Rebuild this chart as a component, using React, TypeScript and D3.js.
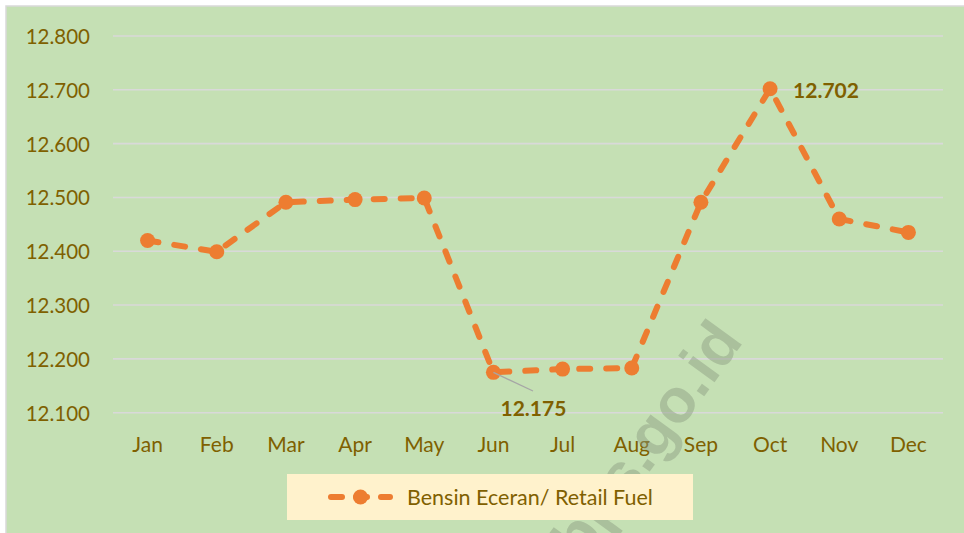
import React from "react";
import * as d3 from "d3";

const months = ["Jan", "Feb", "Mar", "Apr", "May", "Jun", "Jul", "Aug", "Sep", "Oct", "Nov", "Dec"];
const fuelValues = [12420, 12399, 12491, 12496, 12499, 12175, 12181, 12183, 12491, 12702, 12460, 12435];
const yTicks = [12100, 12200, 12300, 12400, 12500, 12600, 12700, 12800];
const seriesName = "Bensin Eceran/ Retail Fuel";
const labeledPoints = [
  { index: 5, text: "12.175" },
  { index: 9, text: "12.702" },
];

const W = 964;
const H = 533;
const FONT = "Lato, 'Open Sans', sans-serif";
const TEXT = "#7f6000";
const ORANGE = "#ed7d31";

export default function App() {
  const x = d3.scaleBand<string>().domain(months).range([113, 943]);
  const y = d3.scaleLinear().domain([12100, 12800]).range([412.7, 36]);
  const cx = (m: string) => (x(m) as number) + x.bandwidth() / 2;
  const fmt = (v: number) => d3.format(",.0f")(v).replace(",", ".");

  const line = d3
    .line<number>()
    .x((_, i) => cx(months[i]))
    .y((d) => y(d));

  return (
    <svg
      width={W}
      height={H}
      style={{ position: "absolute", left: 0, top: 0, display: "block" }}
      fontFamily={FONT}
    >
      <rect x={0} y={0} width={W} height={H} fill="#ffffff" />
      <rect x={6} y={6} width={W + 10} height={H + 10} fill="#c5e0b4" stroke="#d9d9d9" strokeWidth={1.5} />

      {yTicks.map((t) => (
        <g key={t}>
          <line x1={113} x2={943} y1={y(t)} y2={y(t)} stroke="#d9d9d9" strokeWidth={1.6} />
          <text x={90} y={y(t)} textAnchor="end" dominantBaseline="central" fontSize={20.5} fill={TEXT}>
            {fmt(t)}
          </text>
        </g>
      ))}

      {months.map((m) => (
        <text key={m} x={cx(m)} y={443} textAnchor="middle" dominantBaseline="central" fontSize={21} fill={TEXT}>
          {m}
        </text>
      ))}

      <text
        transform={`translate(646,440) rotate(-54)`}
        textAnchor="middle"
        dominantBaseline="central"
        fontSize={62}
        fontWeight="bold"
        fontFamily="'Liberation Sans', Arial, sans-serif"
        fill="#8a9a80"
        opacity={0.45}
      >
        bps.go.id
      </text>

      <path
        d={line(fuelValues) || ""}
        fill="none"
        stroke={ORANGE}
        strokeWidth={6}
        strokeDasharray="11 16"
        strokeLinecap="round"
        strokeLinejoin="round"
      />
      {fuelValues.map((v, i) => (
        <circle key={i} cx={cx(months[i])} cy={y(v)} r={7.5} fill={ORANGE} />
      ))}

      <line
        x1={cx(months[5])}
        y1={y(fuelValues[5])}
        x2={533}
        y2={391}
        stroke="#a6a6a6"
        strokeWidth={1.3}
      />
      {labeledPoints.map((p) => {
        const px = cx(months[p.index]);
        const py = y(fuelValues[p.index]);
        const isTop = p.index === 9;
        return (
          <text
            key={p.index}
            x={isTop ? px + 23 : px + 40}
            y={isTop ? py + 1 : py + 35}
            textAnchor={isTop ? "start" : "middle"}
            dominantBaseline="central"
            fontSize={21}
            fontWeight="bold"
            fill={TEXT}
          >
            {p.text}
          </text>
        );
      })}

      <rect x={287} y={474} width={406} height={46} fill="#fff2cc" />
      <line x1={331} x2={390} y1={497} y2={497} stroke={ORANGE} strokeWidth={6} strokeDasharray="11 14" strokeLinecap="round" />
      <circle cx={360.5} cy={497} r={7.5} fill={ORANGE} />
      <text x={407} y={497} dominantBaseline="central" fontSize={21.5} fill={TEXT}>
        {seriesName}
      </text>
    </svg>
  );
}
